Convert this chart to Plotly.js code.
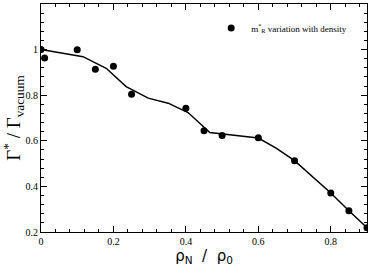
<!DOCTYPE html>
<html>
<head>
<meta charset="utf-8">
<script src="https://cdn.plot.ly/plotly-3.0.1.min.js"></script>
<style>html,body{margin:0;padding:0;background:#fff;}#chart{width:371px;height:268px;}</style>
</head>
<body>
<div id="chart"></div>
<script>
// Data points (m*_R variation with density)
const densityPoints = [0, 0.01, 0.1, 0.15, 0.2, 0.25, 0.4, 0.45, 0.5, 0.6, 0.7, 0.8, 0.85, 0.9];
const gammaPoints   = [1.0, 0.963, 0.999, 0.914, 0.927, 0.804, 0.743, 0.644, 0.623, 0.613, 0.512, 0.371, 0.293, 0.219];
// Smooth curve
const densityCurve = [0, 0.116, 0.18, 0.235, 0.296, 0.351, 0.406, 0.466, 0.6, 0.649, 0.7, 0.8, 0.85, 0.9];
const gammaCurve   = [1.0, 0.969, 0.918, 0.838, 0.787, 0.765, 0.724, 0.636, 0.612, 0.568, 0.513, 0.371, 0.293, 0.219];
const xTicks = [0, 0.2, 0.4, 0.6, 0.8];
const yTicks = [0.2, 0.4, 0.6, 0.8, 1, 1.2];

const serif = "Liberation Serif, Times New Roman, serif";

const traces = [
  {x: densityCurve, y: gammaCurve, mode: 'lines', line: {color: '#000', width: 1.5}, showlegend: false, hoverinfo: 'skip'},
  {x: densityPoints, y: gammaPoints, mode: 'markers', marker: {color: '#000', size: 7}, name: 'm<sup>*</sup><sub>R</sub> variation with density'}
];

const axisCommon = {
  showline: true, linecolor: '#000', linewidth: 1, mirror: 'allticks',
  ticks: 'inside', ticklen: 6, tickcolor: '#000', tickwidth: 1,
  showgrid: false, zeroline: false,
  tickfont: {family: serif, size: 10, color: '#000'},
  minor: {dtick: 0.04, ticks: 'inside', ticklen: 3, tickcolor: '#000', showgrid: false}
};

const layout = {
  width: 371, height: 268,
  margin: {l: 41, r: 4, t: 4, b: 36},
  paper_bgcolor: '#fff', plot_bgcolor: '#fff',
  font: {family: serif, color: '#000'},
  xaxis: Object.assign({}, axisCommon, {
    range: [0, 0.9], tickvals: xTicks, ticktext: xTicks.map(String),
    title: {text: 'ρ<sub>N</sub>  /  ρ<sub>0</sub>', font: {family: 'DejaVu Sans, sans-serif', size: 15}, standoff: 4}
  }),
  yaxis: Object.assign({}, axisCommon, {
    range: [0.2, 1.2], tickvals: yTicks, ticktext: yTicks.map(String),
    title: {text: 'Γ<sup>*</sup> / Γ<sub>vacuum</sub>', font: {family: serif, size: 19}, standoff: 4}
  }),
  legend: {x: 0.522, y: 0.958, xanchor: 'left', yanchor: 'top', bgcolor: 'rgba(0,0,0,0)', font: {family: serif, size: 9}, itemwidth: 30}
};

Plotly.newPlot('chart', traces, layout, {displayModeBar: false, staticPlot: true});
</script>
</body>
</html>
